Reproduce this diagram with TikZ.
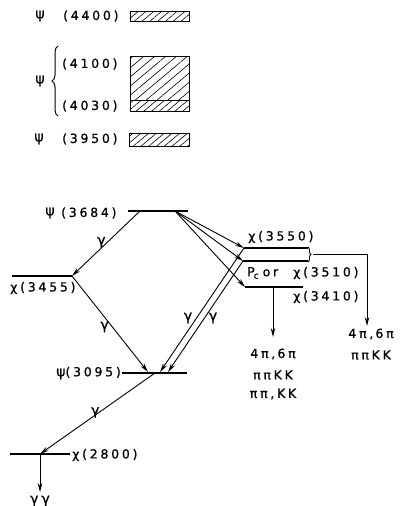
\documentclass[tikz,border=0pt]{standalone}
\usepackage{fontspec}
\setmainfont{DejaVu Sans}[LetterSpace=22,FakeBold=0.8]
\usetikzlibrary{arrows.meta,patterns.meta,decorations.pathreplacing}
\begin{document}
\begin{tikzpicture}[x=1pt,y=-1pt,
  lbl/.style={font=\fontsize{12.5}{14}\selectfont, inner sep=0pt},
  glbl/.style={font=\fontsize{14}{16}\selectfont, inner sep=0pt},
  lev/.style={line width=1.1pt},
  arr/.style={line width=0.9pt,-{Stealth[length=9pt,width=4.5pt]}},
  hatchA/.style={draw,line width=1pt,pattern={Lines[angle=40,distance=5pt,line width=0.6pt]}},
  hatchB/.style={draw,line width=1pt,pattern={Lines[angle=40,distance=7pt,line width=0.6pt]}}]
\useasboundingbox (0,0) rectangle (402,506);

% upper states with widths
\draw[hatchA] (130,11) rectangle (189,21);
\draw[hatchB] (130,56) rectangle (189,100);
\draw[hatchA] (130,100) rectangle (189,111);
\draw[hatchA] (129,133) rectangle (189,146);

\node[glbl] (psiA) at (40,16) {ψ};
\node[lbl,anchor=west] (m4400) at (63,16) {(4400)};
\node[glbl] (psiB) at (40,81) {ψ};
\node[lbl,anchor=west] (m4100) at (62,64) {(4100)};
\node[lbl,anchor=west] (m4030) at (62,106) {(4030)};
\draw[line width=1pt,decorate,decoration={brace,amplitude=6pt}] (58,116) -- (58,46);
\node[glbl] (psiC) at (39,139) {ψ};
\node[lbl,anchor=west] (m3950) at (62,139) {(3950)};

% levels
\coordinate (L3684a) at (128,211); \coordinate (L3684b) at (188,211);
\coordinate (s3684l) at (140,211); \coordinate (s3684r) at (175,211);
\coordinate (L3455a) at (12,276);  \coordinate (L3455b) at (72,276);
\coordinate (L3095a) at (122,373); \coordinate (L3095b) at (187,373);
\coordinate (e3095a) at (148,372); \coordinate (e3095b) at (160,372); \coordinate (e3095c) at (168,372);
\coordinate (s3095) at (155,373);
\coordinate (L3550a) at (244,248); \coordinate (L3550b) at (308,248);
\coordinate (L3510a) at (243,261); \coordinate (L3510b) at (308,261);
\coordinate (L3410a) at (245,287); \coordinate (L3410b) at (303,287);
\coordinate (L2800a) at (10,454);  \coordinate (L2800b) at (70,454);
\coordinate (s2800) at (40,454);
\coordinate (s3410) at (273,287);
\coordinate (br) at (313,254); \coordinate (brc) at (367,254);

\draw[lev] (L3684a) -- (L3684b);
\draw[lev] (L3455a) -- (L3455b);
\draw[lev] (L3095a) -- (L3095b);
\draw[lev] (L3550a) -- (L3550b);
\draw[lev] (L3510a) -- (L3510b);
\draw[lev] (L3410a) -- (L3410b);
\draw[lev] (L2800a) -- (L2800b);

\node[glbl] (psi3684) at (50,213) {ψ};
\node[lbl,anchor=west] (m3684) at (61,213) {(3684)};
\node[lbl,anchor=west] (m3455) at (10,288) {χ(3455)};
\node[lbl,anchor=east] (m3095) at (121,373) {{\fontsize{14}{16}\selectfont ψ}(3095)};
\node[lbl,anchor=west] (m2800) at (72,455) {χ(2800)};
\node[lbl,anchor=west] (m3550) at (248,237) {χ(3550)};
\node[lbl,anchor=west] (mPc) at (247,273) {P\kern-1pt\raisebox{-2.5pt}{\fontsize{9}{10}\selectfont c}\hspace{4pt}or};
\node[lbl,anchor=west] (m3510) at (293,273) {χ(3510)};
\node[lbl,anchor=west] (m3410) at (293,297) {χ(3410)};

% transitions
\draw[arr] (s3684l) -- node[glbl,pos=0.45,xshift=-8pt,yshift=-2pt] (g1) {γ} (L3455b);
\draw[arr] (L3455b) -- node[glbl,pos=0.52,xshift=-7pt,yshift=-1pt] (g2) {γ} (e3095a);
\draw[arr] (L3550a) -- (e3095b);
\draw[arr] (L3510a) -- (e3095c);
\node[glbl] (g3) at (188,318) {γ};
\node[glbl] (g4) at (213,318) {γ};
\draw[arr] (s3684r) -- (L3550a);
\draw[arr] (s3684r) -- (L3510a);
\draw[arr] (s3684r) -- (L3410a);
\draw[arr] (s3095) -- node[glbl,pos=0.45,xshift=-8pt,yshift=-3pt] (g5) {γ} (s2800);
\coordinate (e2800) at (40,492);
\draw[arr] (s2800) -- (e2800);
\node[glbl] (gg) at (40,501) {γγ};

% hadronic decays
\draw[line width=0.9pt,decorate,decoration={brace,amplitude=3pt}] (308,247) -- (308,262);
\coordinate (e3550) at (367,326);
\draw[arr] (br) -- (brc) -- (e3550);
\node[lbl] (h1) at (371,334) {4π,\,6π};
\node[lbl] (h2) at (371,355) {ππKK};
\coordinate (e3410) at (273,337);
\draw[arr] (s3410) -- (e3410);
\node[lbl] (h3) at (273,354) {4π,\,6π};
\node[lbl] (h4) at (273,375) {ππKK};
\node[lbl] (h5) at (273,394) {ππ,KK};
\end{tikzpicture}
\end{document}
